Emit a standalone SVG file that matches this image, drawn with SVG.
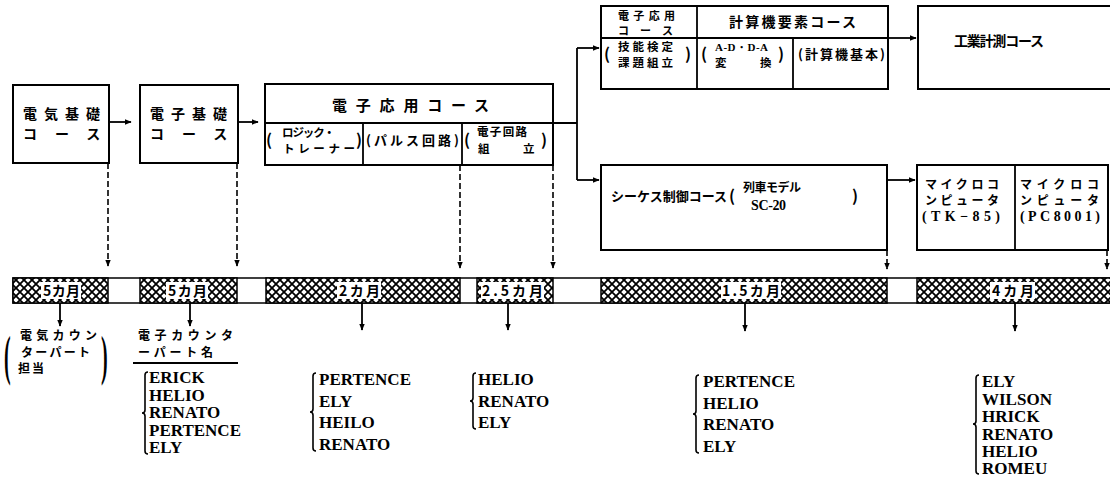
<svg xmlns="http://www.w3.org/2000/svg" width="1110" height="478" viewBox="0 0 1110 478">
<style>
.box{fill:#fff;stroke:#000;stroke-width:2}
.ln{fill:none;stroke:#000;stroke-width:1.8}
.dash{fill:none;stroke:#000;stroke-width:1.6;stroke-dasharray:6 3}
.jp{font-family:"Noto Sans CJK JP","Noto Sans",sans-serif;font-weight:700;fill:#000}
.en{font-family:"Liberation Serif",serif;font-weight:700;fill:#000}
.nm{font-family:"Liberation Serif",serif;font-weight:700;fill:#000;font-size:17px}
.br{fill:none;stroke:#000;stroke-width:1.6}
.seg{fill:url(#hatch);stroke:#000;stroke-width:1.5}
.wb{fill:#fff}
</style>
<defs>
<pattern id="hatch" patternUnits="userSpaceOnUse" width="8" height="8">
<rect width="8" height="8" fill="#fff"/>
<path d="M0,0 L8,8 M8,0 L0,8" stroke="#000" stroke-width="1.8"/>
</pattern>
<marker id="ah" viewBox="0 0 10 10" refX="9" refY="5" markerWidth="7" markerHeight="7" orient="auto" markerUnits="userSpaceOnUse"><path d="M0,1 L10,5 L0,9 z" fill="#000"/></marker>
</defs>
<rect width="1110" height="478" fill="#fff"/>

<g id="n-denki-kiso">
<rect class="box" x="13" y="85" width="96" height="78"/>
<text class="jp" x="23" y="118.5" font-size="14" letter-spacing="7">電気基礎</text>
<text class="jp" x="23" y="138.5" font-size="14" letter-spacing="18">コース</text>
</g>

<g id="n-denshi-kiso">
<rect class="box" x="140" y="85" width="98" height="78"/>
<text class="jp" x="150" y="118.5" font-size="14" letter-spacing="7">電子基礎</text>
<text class="jp" x="150" y="138.5" font-size="14" letter-spacing="18">コース</text>
</g>

<g id="n-denshi-oyo">
<rect class="box" x="265" y="84" width="288" height="81"/>
<line class="ln" x1="265" y1="123" x2="553" y2="123"/>
<line class="ln" x1="363" y1="123" x2="363" y2="165"/>
<line class="ln" x1="462" y1="123" x2="462" y2="165"/>
<text class="jp" x="332" y="110.5" font-size="15" letter-spacing="8.8">電子応用コース</text>
<text class="jp" x="266" y="145.5" font-size="16">(</text>
<text class="jp" x="282" y="137" font-size="11.5" textLength="53" lengthAdjust="spacing">ロジック・</text>
<text class="jp" x="283" y="152.5" font-size="11.5" textLength="72" lengthAdjust="spacing">トレーナー</text>
<text class="jp" x="356" y="145.5" font-size="16">)</text>
<text class="jp" x="366" y="145" font-size="13" textLength="93" lengthAdjust="spacing">(パルス回路)</text>
<text class="jp" x="464" y="145.5" font-size="16">(</text>
<text class="jp" x="477" y="136" font-size="11.5" textLength="50" lengthAdjust="spacing">電子回路</text>
<text class="jp" x="478" y="153" font-size="11.5">組</text>
<text class="jp" x="523" y="153" font-size="11.5">立</text>
<text class="jp" x="541" y="145.5" font-size="16">)</text>
</g>

<g id="n-top-group">
<rect class="box" x="601" y="6" width="287" height="83"/>
<line class="ln" x1="601" y1="38" x2="888" y2="38"/>
<line class="ln" x1="697" y1="6" x2="697" y2="89"/>
<line class="ln" x1="793" y1="38" x2="793" y2="89"/>
<text class="jp" x="618" y="20" font-size="11" textLength="57" lengthAdjust="spacing">電子応用</text>
<text class="jp" x="618" y="35" font-size="11" textLength="55" lengthAdjust="spacing">コ ー ス</text>
<text class="jp" x="729" y="27" font-size="14" textLength="127" lengthAdjust="spacing">計算機要素コース</text>
<text class="jp" x="604" y="60" font-size="16">(</text>
<text class="jp" x="618" y="51" font-size="11.5" textLength="55" lengthAdjust="spacing">技能検定</text>
<text class="jp" x="618" y="66.5" font-size="11.5" textLength="55" lengthAdjust="spacing">課題組立</text>
<text class="jp" x="685" y="60" font-size="16">)</text>
<text class="jp" x="701" y="60" font-size="16">(</text>
<text class="en" x="715" y="51" font-size="11" textLength="53" lengthAdjust="spacing">A-D・D-A</text>
<text class="jp" x="715" y="66.5" font-size="11.5">変</text>
<text class="jp" x="760" y="66.5" font-size="11.5">換</text>
<text class="jp" x="778" y="60" font-size="16">)</text>
<text class="jp" x="798" y="59" font-size="13" textLength="87" lengthAdjust="spacing">(計算機基本)</text>
</g>

<g id="n-kogyo-keisoku">
<rect class="box" x="918" y="6" width="200" height="83"/>
<text class="jp" x="954" y="46" font-size="14" textLength="90" lengthAdjust="spacing">工業計測コース</text>
</g>

<g id="n-sequence">
<rect class="box" x="601" y="165" width="286" height="85"/>
<text class="jp" x="611" y="201" font-size="13" textLength="116" lengthAdjust="spacing">シーケス制御コース</text>
<text class="jp" x="729" y="202" font-size="16">(</text>
<text class="jp" x="743" y="192" font-size="12" letter-spacing="-0.5">列車モデル</text>
<text class="en" x="751" y="210" font-size="14" textLength="35" lengthAdjust="spacing">SC-20</text>
<text class="jp" x="852" y="202" font-size="16">)</text>
</g>

<g id="n-micro">
<rect class="box" x="917" y="165" width="191" height="85"/>
<line class="ln" x1="1015" y1="165" x2="1015" y2="250"/>
<text class="jp" x="925" y="189" font-size="12" textLength="74" lengthAdjust="spacing">マイクロコ</text>
<text class="jp" x="925" y="205" font-size="12" textLength="74" lengthAdjust="spacing">ンピュータ</text>
<text class="en" x="922" y="221" font-size="14" textLength="78" lengthAdjust="spacing">(TK−85)</text>
<text class="jp" x="1020" y="189" font-size="12" textLength="79" lengthAdjust="spacing">マイクロコ</text>
<text class="jp" x="1020" y="205" font-size="12" textLength="79" lengthAdjust="spacing">ンピュータ</text>
<text class="en" x="1020" y="221" font-size="14" textLength="80" lengthAdjust="spacing">(PC8001)</text>
</g>

<g id="n-timeline">
<rect x="13" y="278" width="1100" height="25" fill="#fff" stroke="#000" stroke-width="1.5"/>
<rect class="seg" x="13" y="278" width="95" height="25"/>
<rect class="seg" x="140" y="278" width="97" height="25"/>
<rect class="seg" x="266" y="278" width="194" height="25"/>
<rect class="seg" x="477" y="278" width="76" height="25"/>
<rect class="seg" x="601" y="278" width="286" height="25"/>
<rect class="seg" x="917" y="278" width="195" height="25"/>
<rect class="wb" x="41" y="282" width="40" height="17"/>
<rect class="wb" x="166" y="282" width="42" height="17"/>
<rect class="wb" x="337" y="282" width="44" height="17"/>
<rect class="wb" x="481" y="282" width="63" height="17"/>
<rect class="wb" x="721" y="282" width="60" height="17"/>
<rect class="wb" x="990" y="282" width="45" height="17"/>
<text class="jp" x="43" y="296" font-size="14" textLength="37" lengthAdjust="spacing">5カ月</text>
<text class="jp" x="168" y="296" font-size="14" textLength="39" lengthAdjust="spacing">5カ月</text>
<text class="jp" x="339" y="296" font-size="14" textLength="41" lengthAdjust="spacing">2カ月</text>
<text class="jp" x="482" y="296" font-size="14" textLength="61" lengthAdjust="spacing">2.5カ月</text>
<text class="jp" x="722" y="296" font-size="14" textLength="58" lengthAdjust="spacing">1.5カ月</text>
<text class="jp" x="992" y="296" font-size="14" textLength="42" lengthAdjust="spacing">4カ月</text>
</g>

<g id="connectors">
<path class="ln" d="M109,122 H131" marker-end="url(#ah)"/>
<path class="ln" d="M238,122 H258" marker-end="url(#ah)"/>
<path class="ln" d="M553,123 H577 M577,48 V180"/>
<path class="ln" d="M577,48 H599" marker-end="url(#ah)"/>
<path class="ln" d="M577,180 H599" marker-end="url(#ah)"/>
<path class="ln" d="M888,38 H916" marker-end="url(#ah)"/>
<path class="ln" d="M887,180 H915" marker-end="url(#ah)"/>
<path class="dash" d="M108,163 V266" marker-end="url(#ah)"/>
<path class="dash" d="M237,163 V266" marker-end="url(#ah)"/>
<path class="dash" d="M460,165 V268" marker-end="url(#ah)"/>
<path class="dash" d="M553,165 V268" marker-end="url(#ah)"/>
<path class="dash" d="M887,250 V269" marker-end="url(#ah)"/>
<path class="dash" d="M1107,250 V269" marker-end="url(#ah)"/>
<path class="ln" d="M60,303 V326" marker-end="url(#ah)"/>
<path class="ln" d="M190,303 V326" marker-end="url(#ah)"/>
<path class="ln" d="M362,303 V330" marker-end="url(#ah)"/>
<path class="ln" d="M508,303 V330" marker-end="url(#ah)"/>
<path class="ln" d="M745,303 V331" marker-end="url(#ah)"/>
<path class="ln" d="M1015,303 V331" marker-end="url(#ah)"/>
</g>

<g id="n-denki-cp">
<text class="en" font-size="20" transform="translate(4,374) scale(1,2.7)">(</text>
<text class="jp" x="20" y="340" font-size="12" textLength="77" lengthAdjust="spacing">電気カウン</text>
<text class="jp" x="21" y="356.5" font-size="12" textLength="69" lengthAdjust="spacing">ターパート</text>
<text class="jp" x="18" y="373" font-size="12" textLength="26" lengthAdjust="spacing">担当</text>
<text class="en" font-size="20" transform="translate(101,374) scale(1,2.7)">)</text>
</g>

<g id="n-denshi-cp">
<text class="jp" x="138" y="340" font-size="12" textLength="95" lengthAdjust="spacing">電子カウンタ</text>
<text class="jp" x="138" y="356.5" font-size="12" textLength="75" lengthAdjust="spacing">ーパート名</text>
<line class="ln" x1="133" y1="363" x2="238" y2="363"/>
<path class="br" d="M148,372 Q145,372 145,375 V410 Q145,413 142,413 Q145,413 145,416 V451 Q145,454 148,454"/>
<text class="nm" x="149" y="383">ERICK</text>
<text class="nm" x="149" y="400.5">HELIO</text>
<text class="nm" x="149" y="418">RENATO</text>
<text class="nm" x="149" y="435.5">PERTENCE</text>
<text class="nm" x="149" y="453">ELY</text>
</g>

<g id="n-list-2">
<path class="br" d="M316,373 Q313,373 313,376 V409 Q313,412 310,412 Q313,412 313,415 V448 Q313,451 316,451"/>
<text class="nm" x="319" y="385">PERTENCE</text>
<text class="nm" x="319" y="407">ELY</text>
<text class="nm" x="319" y="428">HEILO</text>
<text class="nm" x="319" y="450">RENATO</text>
</g>

<g id="n-list-3">
<path class="br" d="M476,373 Q473,373 473,376 V398 Q473,401 470,401 Q473,401 473,404 V426 Q473,429 476,429"/>
<text class="nm" x="478" y="385">HELIO</text>
<text class="nm" x="478" y="407">RENATO</text>
<text class="nm" x="478" y="428">ELY</text>
</g>

<g id="n-list-4">
<path class="br" d="M699,375 Q696,375 696,378 V411 Q696,414 693,414 Q696,414 696,417 V450 Q696,453 699,453"/>
<text class="nm" x="703" y="387">PERTENCE</text>
<text class="nm" x="703" y="408.5">HELIO</text>
<text class="nm" x="703" y="430">RENATO</text>
<text class="nm" x="703" y="452">ELY</text>
</g>

<g id="n-list-5">
<path class="br" d="M979,375 Q976,375 976,378 V421 Q976,424 973,424 Q976,424 976,427 V471 Q976,474 979,474"/>
<text class="nm" x="982" y="387">ELY</text>
<text class="nm" x="982" y="404.5">WILSON</text>
<text class="nm" x="982" y="422">HRICK</text>
<text class="nm" x="982" y="439.5">RENATO</text>
<text class="nm" x="982" y="457">HELIO</text>
<text class="nm" x="982" y="474">ROMEU</text>
</g>
</svg>
